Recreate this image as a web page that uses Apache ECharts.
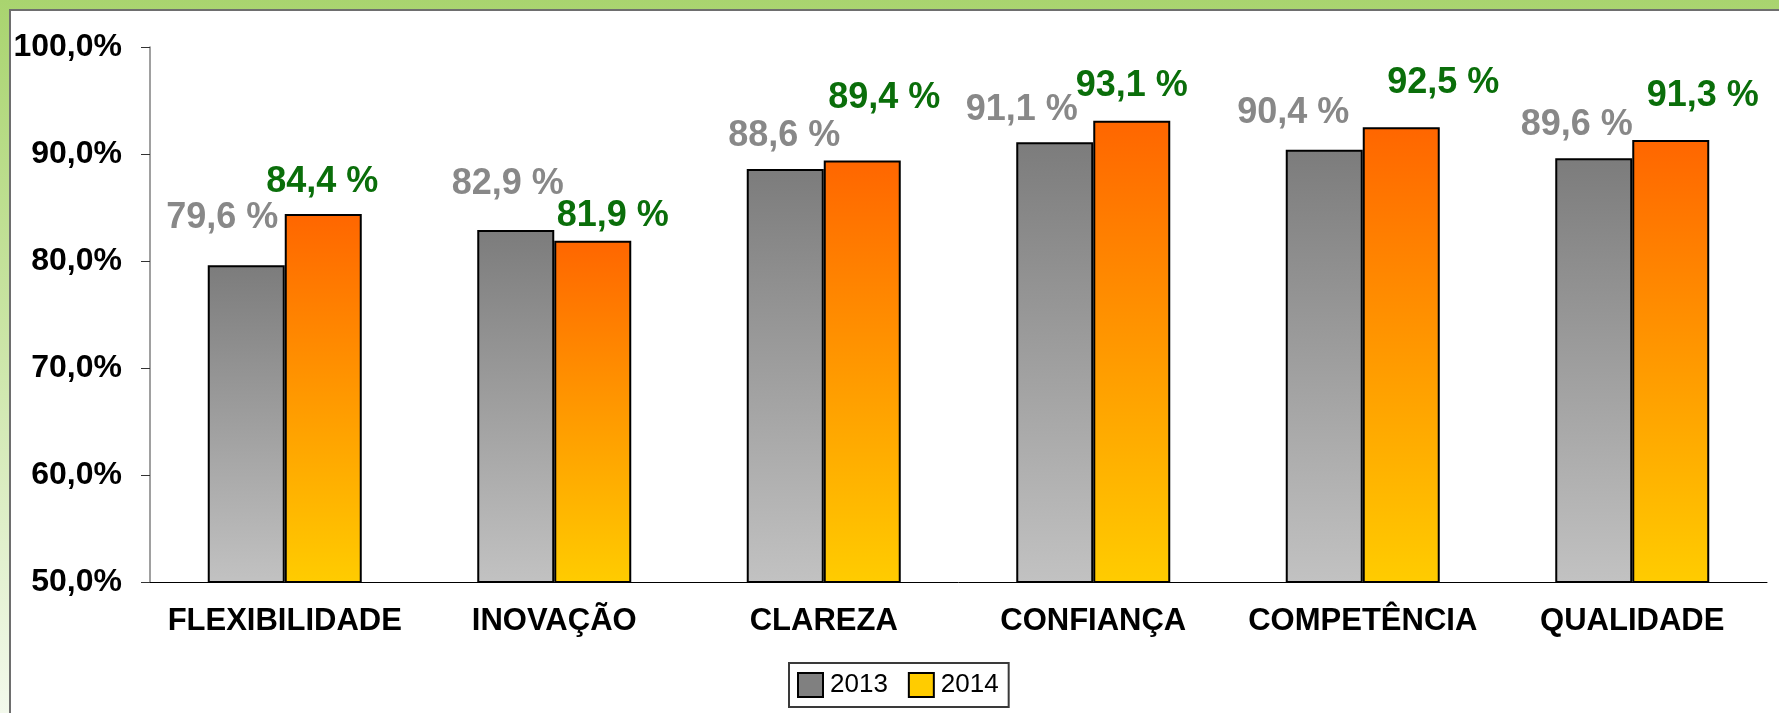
<!DOCTYPE html>
<html>
<head>
<meta charset="utf-8">
<script src="https://cdn.jsdelivr.net/npm/echarts@6/dist/echarts.min.js"></script>
<style>
    body { margin: 0; }
    #frame {
        position: absolute; left: 0; top: 0; width: 1779px; height: 713px;
        background: linear-gradient(to bottom, #a9d46f 0%, #c9e4a3 45%, #f3f9ec 100%);
    }
    #panel {
        position: absolute; left: 9px; top: 9px; right: 0; bottom: 0;
        background: #fff; border-left: 2px solid #6e6e6e; border-top: 2px solid #6e6e6e;
    }
    #chart { position: absolute; left: 0; top: 0; width: 1779px; height: 713px; }
</style>
</head>
<body>
<div id="frame"><div id="panel"></div></div>
<div id="chart"></div>
<script>
// categories and values (percent)
let categories = ['FLEXIBILIDADE', 'INOVAÇÃO', 'CLAREZA', 'CONFIANÇA', 'COMPETÊNCIA', 'QUALIDADE'];
let values2013 = [79.6, 82.9, 88.6, 91.1, 90.4, 89.6];
let values2014 = [84.4, 81.9, 89.4, 93.1, 92.5, 91.3];

// hand placed label shifts, like the original
let shift2013 = [[-24, -29], [-8, -28], [-1, -15], [-33, -14], [-31, -19], [-17, -15]];
let shift2014 = [[-1, -14], [20, -7], [22, -44], [0, -17], [42, -26], [32, -26]];

function fmtPct(v, sep) {
    return v.toFixed(1).replace('.', ',') + sep + '%';
}

function buildData(vals, shifts) {
    return vals.map(function (v, i) {
        return { value: v, label: { offset: shifts[i] } };
    });
}

let domObj = document.getElementById('chart');
let chart = echarts.init(domObj);

let fontFam = '"Liberation Sans", Arial, sans-serif';

let opts = {
    animation: false,
    grid: { left: 150, top: 47, width: 1617, height: 535 },
    legend: {
        left: 789,
        top: 663,
        padding: [9, 10, 9, 8],
        borderColor: '#3a3a3a',
        borderWidth: 2,
        backgroundColor: '#fff',
        itemWidth: 25,
        itemHeight: 24,
        itemGap: 20,
        textStyle: {
            fontFamily: fontFam,
            fontSize: 26,
            color: '#000',
            padding: [0, 0, 0, 2],
        },
        data: [
            { name: '2013', icon: 'rect', itemStyle: { color: '#808080', borderColor: '#000', borderWidth: 2 } },
            { name: '2014', icon: 'rect', itemStyle: { color: '#ffcc00', borderColor: '#000', borderWidth: 2 } },
        ],
    },
    xAxis: {
        type: 'category',
        data: categories,
        axisLine: { lineStyle: { color: '#000', width: 1 } },
        axisTick: { length: 9, lineStyle: { color: '#333' } },
        axisLabel: {
            interval: 0,
            margin: 24,
            fontFamily: fontFam,
            fontWeight: 'bold',
            fontSize: 31,
            color: '#000',
        },
    },
    yAxis: {
        type: 'value',
        min: 50,
        max: 100,
        interval: 10,
        splitLine: { show: false },
        axisLine: { show: true, lineStyle: { color: '#808080', width: 1.5 } },
        axisTick: { show: true, length: 9, lineStyle: { color: '#333' } },
        axisLabel: {
            margin: 28,
            fontFamily: fontFam,
            fontWeight: 'bold',
            fontSize: 32,
            color: '#000',
            formatter: function (v) { return fmtPct(v, ''); },
        },
    },
    series: [
        {
            name: '2013',
            type: 'bar',
            barWidth: 77,
            barGap: '0%',
            data: buildData(values2013, shift2013),
            itemStyle: {
                borderColor: '#000',
                borderWidth: 2,
                color: new echarts.graphic.LinearGradient(0, 0, 0, 1, [
                    { offset: 0, color: '#7c7c7c' },
                    { offset: 1, color: '#c2c2c2' },
                ]),
            },
            label: {
                show: true,
                position: 'top',
                distance: 0,
                fontFamily: fontFam,
                fontWeight: 'bold',
                fontSize: 36,
                color: '#888888',
                formatter: function (p) { return fmtPct(p.value, ' '); },
            },
        },
        {
            name: '2014',
            type: 'bar',
            barWidth: 77,
            barGap: '0%',
            data: buildData(values2014, shift2014),
            itemStyle: {
                borderColor: '#000',
                borderWidth: 2,
                color: new echarts.graphic.LinearGradient(0, 0, 0, 1, [
                    { offset: 0, color: '#ff6600' },
                    { offset: 0.5, color: '#ff9900' },
                    { offset: 1, color: '#ffcc00' },
                ]),
            },
            label: {
                show: true,
                position: 'top',
                distance: 0,
                fontFamily: fontFam,
                fontWeight: 'bold',
                fontSize: 36,
                color: '#0a6e0a',
                formatter: function (p) { return fmtPct(p.value, ' '); },
            },
        },
    ],
};

chart.setOption(opts, true);
</script>
</body>
</html>
